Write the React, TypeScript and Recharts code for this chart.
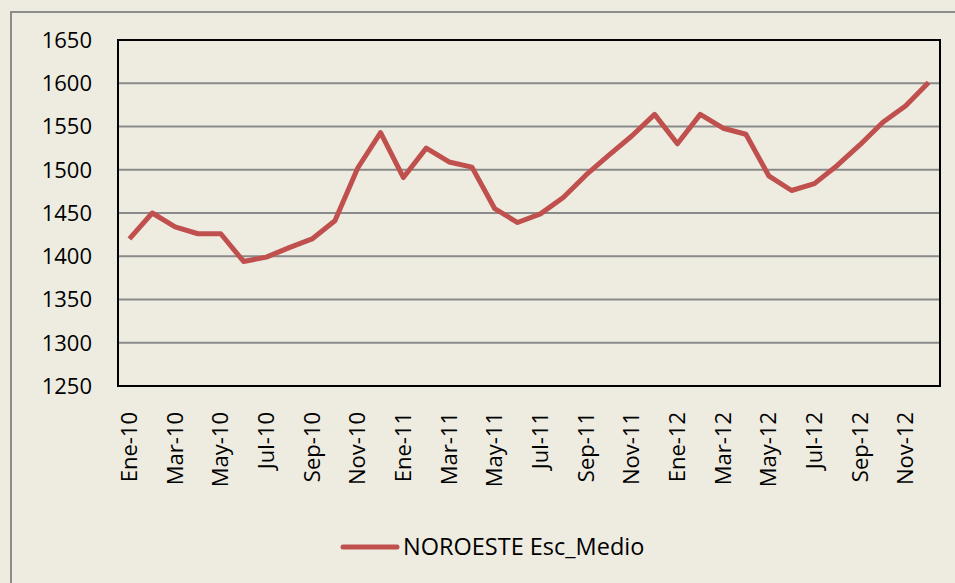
import { CartesianGrid, Legend, Line, LineChart, ReferenceArea, XAxis, YAxis } from "recharts";

const months = [
  "Ene-10", "Feb-10", "Mar-10", "Abr-10", "May-10", "Jun-10",
  "Jul-10", "Ago-10", "Sep-10", "Oct-10", "Nov-10", "Dic-10",
  "Ene-11", "Feb-11", "Mar-11", "Abr-11", "May-11", "Jun-11",
  "Jul-11", "Ago-11", "Sep-11", "Oct-11", "Nov-11", "Dic-11",
  "Ene-12", "Feb-12", "Mar-12", "Abr-12", "May-12", "Jun-12",
  "Jul-12", "Ago-12", "Sep-12", "Oct-12", "Nov-12", "Dic-12",
];

const noroeste = [
  1420, 1450, 1434, 1426, 1426, 1394, 1399, 1410, 1420, 1441, 1502, 1543,
  1491, 1525, 1509, 1503, 1455, 1439, 1449, 1468, 1494, 1517, 1539, 1564,
  1530, 1564, 1548, 1541, 1493, 1476, 1484, 1505, 1529, 1555, 1574, 1601,
];

const yTicks = [1250, 1300, 1350, 1400, 1450, 1500, 1550, 1600, 1650];

const seriesName = "NOROESTE Esc_Medio";

const data = months.map((m, i) => ({ month: m, value: noroeste[i] }));

const FONT = "'Open Sans', sans-serif";
const RED = "#C0504D";

function MonthTick(props: any) {
  const { x, y, payload } = props;
  return (
    <text
      transform={`translate(${x},${y}) rotate(-90)`}
      textAnchor="end"
      dy="0.35em"
      fontFamily={FONT}
      fontSize={22}
      fill="#000"
    >
      {payload.value}
    </text>
  );
}

function LegendBox() {
  return (
    <div style={{ position: "relative", width: 940, height: 72 }}>
      <svg
        width={60}
        height={12}
        style={{ position: "absolute", left: 340, top: 30 }}
      >
        <line x1={3} y1={6} x2={57} y2={6} stroke={RED} strokeWidth={5} strokeLinecap="round" />
      </svg>
      <span
        style={{
          position: "absolute",
          left: 403,
          top: 19,
          fontFamily: FONT,
          fontSize: 23.5,
          lineHeight: "32px",
          color: "#000",
          whiteSpace: "nowrap",
        }}
      >
        {seriesName}
      </span>
    </div>
  );
}

export default function App() {
  return (
    <div
      style={{
        position: "fixed",
        left: 0,
        top: 0,
        width: 955,
        height: 583,
        background: "#EEECE1",
        overflow: "hidden",
      }}
    >
      <div
        style={{
          position: "absolute",
          left: 10,
          top: 11,
          width: 980,
          height: 620,
          border: "2px solid #8c8c8c",
        }}
      />
      <div style={{ position: "absolute", left: 0, top: 0 }}>
        <LineChart
          width={955}
          height={583}
          data={data}
          margin={{ top: 40, right: 15, bottom: 0, left: 0 }}
        >
          <CartesianGrid horizontal vertical={false} stroke="#8a8a8a" strokeWidth={2} />
          <XAxis
            dataKey="month"
            scale="band"
            interval={1}
            axisLine={false}
            tickLine={false}
            tickSize={0}
            tickMargin={26}
            height={125}
            tick={<MonthTick />}
          />
          <YAxis
            domain={[1250, 1650]}
            ticks={yTicks}
            width={118}
            axisLine={false}
            tickLine={false}
            tickSize={0}
            tickMargin={26}
            tick={{ fontFamily: FONT, fontSize: 22, fill: "#000" }}
          />
          <ReferenceArea
            y1={1250}
            y2={1650}
            fill="none"
            stroke="#000"
            strokeWidth={2}
            ifOverflow="visible"
          />
          <Line
            type="linear"
            dataKey="value"
            name={seriesName}
            stroke={RED}
            strokeWidth={5}
            strokeLinejoin="round"
            dot={false}
            isAnimationActive={false}
          />
          <Legend verticalAlign="bottom" content={() => <LegendBox />} />
        </LineChart>
      </div>
    </div>
  );
}
